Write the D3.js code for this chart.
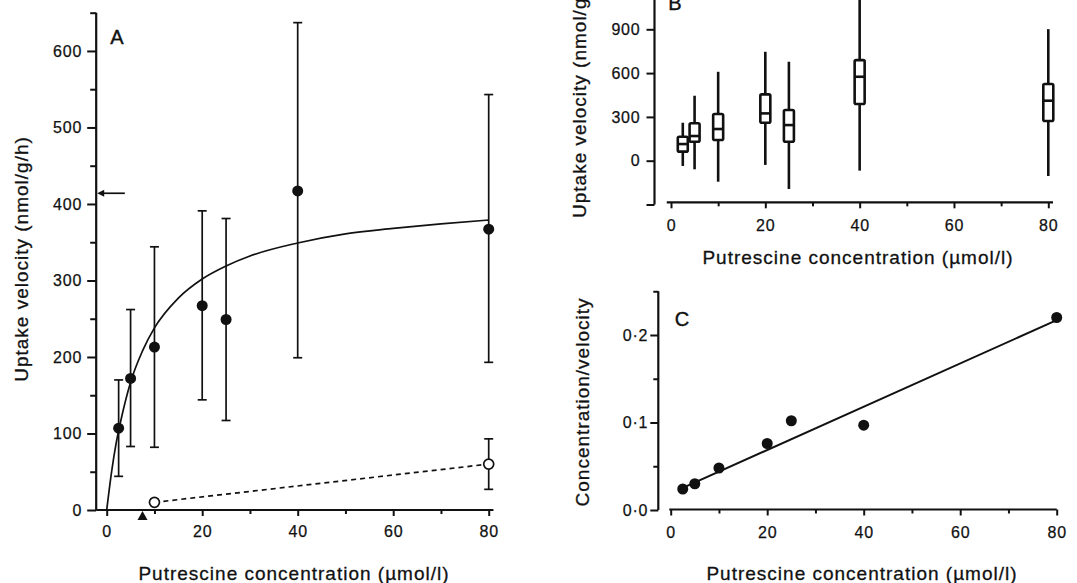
<!DOCTYPE html>
<html><head><meta charset="utf-8">
<script src="https://cdn.jsdelivr.net/npm/d3@7"></script>
<style>
body{margin:0;background:#fff}
svg{display:block;font-family:"Liberation Sans",Arial,sans-serif}
.axline{stroke:#111;stroke-width:2.2;fill:none}
.ttl{font-size:19px;letter-spacing:1px;fill:#111;stroke:#111;stroke-width:0.3}
.plbl{font-size:20px;fill:#111;stroke:#111;stroke-width:0.4}
</style></head><body><svg id="chart" width="1077" height="583"></svg>
<script>
// Panel A: uptake velocity vs concentration (mean ± error)
const concA   = [2.5, 5, 10, 20, 25, 40, 80];
const velA    = [107, 172, 213, 267, 249, 417, 367];
const errHiA  = [170, 262, 344, 391, 381, 637, 543];
const errLoA  = [44, 83, 82, 144, 117, 199, 193];
const concOpen  = [10, 80];
const velOpen   = [10, 60];
const errHiOpen = [14, 93];
const errLoOpen = [7, 27];
// fitted curve
const fitConc = [0, 1, 2, 3, 5, 7.5, 10, 15, 20, 25, 30, 40, 50, 60, 70, 80];
const fitVel  = [0, 49, 88, 118, 167, 208, 238, 277, 302, 319, 332, 349, 361, 368, 374, 379];
const vmaxArrow = 414, kmMarker = 7.5;
const yTicksA = [0, 100, 200, 300, 400, 500, 600];

// Panel B: box plots
const boxConc = [2.5, 5, 10, 20, 25, 40, 80];
const boxMin  = [-36, -59, -144, -29, -194, -68, -105];
const boxQ1   = [62, 130, 142, 260, 130, 388, 272];
const boxMed  = [114, 169, 217, 324, 244, 575, 411];
const boxQ3   = [164, 256, 320, 454, 347, 689, 525];
const boxMax  = [260, 445, 609, 746, 678, 1300, 901];
const yTicksB = [0, 300, 600, 900];

// Panel C: Hanes plot (concentration/velocity)
const ratioConc = [2.5, 5, 10, 20, 25, 40, 80];
const ratioVal  = [0.024, 0.030, 0.048, 0.076, 0.102, 0.097, 0.220];
const ratioFitConc = [2.5, 80];
const ratioFitVal  = [0.0253, 0.217];
const yTicksC = [0, 0.1, 0.2];

const xTicks = [0, 20, 40, 60, 80], xMinor = [10, 30, 50, 70];
const xTitle = 'Putrescine concentration (\u00b5mol/l)';

const svg = d3.select('#chart');

// axis groups: strip the domain, style ticks + labels inline
function styleAxis(s){
  s.select('.domain').remove();
  s.selectAll('line').attr('stroke','#111').attr('stroke-width',2);
  s.selectAll('text').attr('fill','#111')
    .style('font-size','16px').style('letter-spacing','0.8px')
    .style('font-family','"Liberation Sans",Arial,sans-serif')
    .style('stroke','#111').style('stroke-width','0.25px');
}
function xAxis(g, x, y0, x0, x1, tickPad){
  g.append('line').attr('class','axline').attr('x1',x(x0)).attr('x2',x(x1)).attr('y1',y0).attr('y2',y0);
  g.append('g').attr('transform',`translate(0,${y0})`)
    .call(d3.axisBottom(x).tickValues(xTicks).tickSize(6).tickPadding(tickPad)).call(styleAxis);
  g.append('g').attr('transform',`translate(0,${y0})`)
    .call(d3.axisBottom(x).tickValues(xMinor).tickSize(4).tickFormat('')).call(styleAxis);
}
function yAxis(g, y, xPos, v0, v1, ticks, minor, fmt, size, pad){
  g.append('line').attr('class','axline').attr('x1',xPos).attr('x2',xPos).attr('y1',y(v0)).attr('y2',y(v1));
  g.append('g').attr('transform',`translate(${xPos},0)`)
    .call(d3.axisLeft(y).tickValues(ticks).tickSize(size).tickPadding(pad).tickFormat(fmt)).call(styleAxis);
  if(minor.length) g.append('g').attr('transform',`translate(${xPos},0)`)
    .call(d3.axisLeft(y).tickValues(minor).tickSize(size-3).tickFormat('')).call(styleAxis);
}

/* ---------- Panel A ---------- */
const xA = d3.scaleLinear().domain([0,80]).range([106.7,488.7]);
const yA = d3.scaleLinear().domain([0,650]).range([510,12.7]);
const gA = svg.append('g');
const axA = xA(-2.2);
yAxis(gA, yA, axA, 0, 650, yTicksA, [50,150,250,350,450,550,650], d3.format('d'), 9, 5);
xAxis(gA, xA, yA(0), -2.2, 81, 10);

gA.append('path')
  .attr('d', d3.line().x(d=>xA(d)).y((d,i)=>yA(fitVel[i])).curve(d3.curveMonotoneX)(fitConc))
  .attr('fill','none').attr('stroke','#111').attr('stroke-width',1.7);

gA.append('path')
  .attr('d', d3.line().x(d=>xA(d)).y((d,i)=>yA(velOpen[i]))(concOpen))
  .attr('fill','none').attr('stroke','#111').attr('stroke-width',1.7).attr('stroke-dasharray','5,4');

function errBars(g, cs, lo, hi){
  const e = g.selectAll(null).data(cs).join('g');
  e.append('line').attr('x1',d=>xA(d)).attr('x2',d=>xA(d))
    .attr('y1',(d,i)=>yA(lo[i])).attr('y2',(d,i)=>yA(hi[i]));
  e.append('line').attr('x1',d=>xA(d)-4.5).attr('x2',d=>xA(d)+4.5)
    .attr('y1',(d,i)=>yA(hi[i])).attr('y2',(d,i)=>yA(hi[i]));
  e.append('line').attr('x1',d=>xA(d)-4.5).attr('x2',d=>xA(d)+4.5)
    .attr('y1',(d,i)=>yA(lo[i])).attr('y2',(d,i)=>yA(lo[i]));
  e.selectAll('line').attr('stroke','#111').attr('stroke-width',1.7);
}
errBars(gA, concA, errLoA, errHiA);
errBars(gA, concOpen, errLoOpen, errHiOpen);

gA.selectAll('circle.f').data(concA).join('circle').attr('class','f')
  .attr('cx',d=>xA(d)).attr('cy',(d,i)=>yA(velA[i])).attr('r',5.5).attr('fill','#111');
gA.selectAll('circle.o').data(concOpen).join('circle').attr('class','o')
  .attr('cx',d=>xA(d)).attr('cy',(d,i)=>yA(velOpen[i])).attr('r',5)
  .attr('fill','#fff').attr('stroke','#111').attr('stroke-width',1.7);

// Vmax arrow and Km triangle
const ay = yA(vmaxArrow);
gA.append('line').attr('x1',axA+5).attr('x2',xA(3.8)).attr('y1',ay).attr('y2',ay)
  .attr('stroke','#111').attr('stroke-width',1.7);
gA.append('path').attr('d',`M${axA+1},${ay} l7,-3.5 l0,7 z`).attr('fill','#111');
const kx = xA(kmMarker), ky = yA(0);
gA.append('path').attr('d',`M${kx},${ky+1} l5,9 l-10,0 z`).attr('fill','#111');

gA.append('text').attr('class','plbl').attr('x',117).attr('y',44).attr('text-anchor','middle').text('A');
gA.append('text').attr('class','ttl').attr('x',294).attr('y',580).attr('text-anchor','middle').text(xTitle);
gA.append('text').attr('class','ttl').attr('transform','translate(28,259) rotate(-90)')
  .attr('text-anchor','middle').text('Uptake velocity (nmol/g/h)');

/* ---------- Panel B ---------- */
const xB = d3.scaleLinear().domain([0,80]).range([671,1048.3]);
const yB = d3.scaleLinear().domain([0,900]).range([160.7,29.3]);
const gB = svg.append('g');
const axB = xB(-3.5);
// -300 tick is unlabelled; top of the panel runs off the page
yAxis(gB, yB, axB, -300, 1250, [-300, ...yTicksB], [], d=> yTicksB.includes(d) ? d : '', 8, 6);
xAxis(gB, xB, yB(-285), -0.9, 81, 11.5);

const bw = 10;
const bx = gB.selectAll(null).data(boxConc).join('g');
bx.append('line').attr('x1',d=>xB(d)).attr('x2',d=>xB(d))
  .attr('y1',(d,i)=>yB(boxMin[i])).attr('y2',(d,i)=>yB(boxMax[i]))
  .attr('stroke','#111').attr('stroke-width',2.6);
bx.append('rect').attr('x',d=>xB(d)-bw/2).attr('width',bw)
  .attr('y',(d,i)=>yB(boxQ3[i])).attr('height',(d,i)=>yB(boxQ1[i])-yB(boxQ3[i]))
  .attr('rx',1.5).attr('fill','#fff').attr('stroke','#111').attr('stroke-width',2.6);
bx.append('line').attr('x1',d=>xB(d)-bw/2).attr('x2',d=>xB(d)+bw/2)
  .attr('y1',(d,i)=>yB(boxMed[i])).attr('y2',(d,i)=>yB(boxMed[i]))
  .attr('stroke','#111').attr('stroke-width',2.6);

gB.append('text').attr('class','plbl').attr('x',675).attr('y',10).attr('text-anchor','middle').text('B');
gB.append('text').attr('class','ttl').attr('x',858).attr('y',263.5).attr('text-anchor','middle').text(xTitle);
gB.append('text').attr('class','ttl').attr('transform','translate(586,218) rotate(-90)')
  .attr('text-anchor','start').text('Uptake velocity (nmol/g/h)');

/* ---------- Panel C ---------- */
const xC = d3.scaleLinear().domain([0,80]).range([670.7,1056.7]);
const yC = d3.scaleLinear().domain([0,0.25]).range([510,291.25]);
const gC = svg.append('g');
const axC = xC(-2.57);
yAxis(gC, yC, axC, 0, 0.25, yTicksC, [0.05,0.15,0.25], d=>d3.format('.1f')(d).replace('.','\u00b7'), 8, 2);
xAxis(gC, xC, yC(0)-0.5, -0.3, 80, 11);

gC.append('path')
  .attr('d', d3.line().x(d=>xC(d)).y((d,i)=>yC(ratioFitVal[i]))(ratioFitConc))
  .attr('fill','none').attr('stroke','#111').attr('stroke-width',2);
gC.selectAll('circle').data(ratioConc).join('circle')
  .attr('cx',d=>xC(d)).attr('cy',(d,i)=>yC(ratioVal[i])).attr('r',5.5).attr('fill','#111');

gC.append('text').attr('class','plbl').attr('x',682).attr('y',326).attr('text-anchor','middle').text('C');
gC.append('text').attr('class','ttl').attr('x',862).attr('y',580).attr('text-anchor','middle').text(xTitle);
gC.append('text').attr('class','ttl').attr('transform','translate(589,402) rotate(-90)')
  .attr('text-anchor','middle').text('Concentration/velocity');
</script></body></html>
